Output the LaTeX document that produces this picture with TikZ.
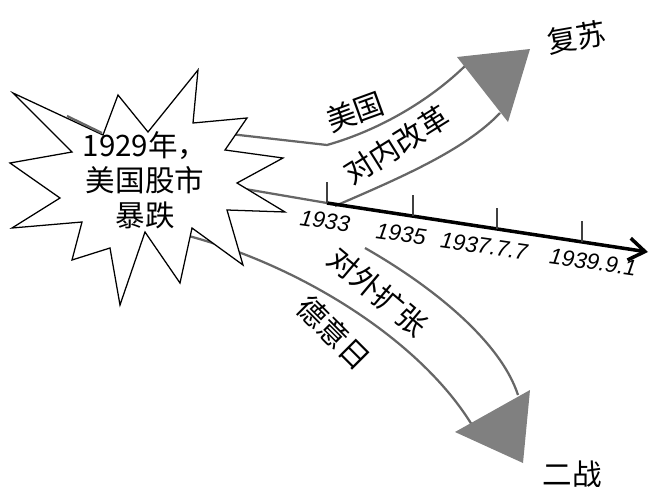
\documentclass[tikz,border=0pt]{standalone}
\usepackage{fontspec}
\setmainfont{Noto Sans CJK SC}
\newfontfamily\numfont{Liberation Sans}
\usetikzlibrary{arrows.meta}

\begin{document}
\begin{tikzpicture}[x=0.025cm,y=-0.025cm,
  band/.style={draw=black!60,line width=1.6pt},
  head/.style={fill=black!50,draw=none},
  lbl/.style={font=\fontsize{21}{25}\selectfont,inner sep=0pt},
  yr/.style={font=\numfont\itshape\fontsize{16}{18}\selectfont,inner sep=0pt,rotate=-8},
  tick/.style={draw=black!75,line width=1pt}]
\useasboundingbox (0,0) rectangle (652,487);
% upper arrow
\draw[band] (230,134) -- (327,145) .. controls (380,130) and (430,100) .. (465,66);
\draw[band] (335,206) .. controls (400,178) and (465,150) .. (500,113);
\fill[head] (457,57) -- (530,49) -- (508,122) -- cycle;
% lower arrow
\draw[band] (185,235) .. controls (300,265) and (420,340) .. (472,425);
\draw[band] (365,248) .. controls (430,285) and (500,340) .. (518,395);
\fill[head] (455,432) -- (530,390) -- (523,463) -- cycle;
% timeline
\coordinate (t0) at (327,203);
\coordinate (tend) at (648,252);
\draw[band] (245,189) -- (t0);
\draw[line width=2.5pt,-{Straight Barb[length=4mm,width=5.5mm]}] (t0) -- (tend);
\foreach \x/\y in {327/203,413/216,497/229,582/242}
  \draw[tick] (\x,\y) -- (\x,\y-21);
\node[yr] (y1933) at (325,221) {1933};
\node[yr] (y1935) at (401,234) {1935};
\node[yr] (y1937) at (484,246) {1937.7.7};
\node[yr] (y1939) at (593,262) {1939.9.1};
% star
\draw[fill=white,line width=0.9pt,line join=miter]
  (13,93) -- (103,135) -- (118,95) -- (148,132) -- (198,70) -- (193,123)
  -- (247,118) -- (225,150) -- (283,158) -- (237,183) -- (285,212) -- (227,210)
  -- (243,265) -- (192,228) -- (180,283) -- (145,232) -- (120,305) -- (110,248)
  -- (72,260) -- (82,222) -- (12,228) -- (60,198) -- (10,163) -- (72,152) -- cycle;
\draw[band] (67,116) -- (102,133);
\node[lbl,align=center] (crash) at (145,180) {1929年，\\美国股市\\暴跌};
% labels
\node[lbl,rotate=10] (recover) at (577,37) {复苏};
\node[lbl,rotate=20] (usa) at (355,112) {美国};
\node[lbl,rotate=32] (reform) at (397,145) {对内改革};
\node[lbl,rotate=-40] (expand) at (378,292) {对外扩张};
\node[lbl,rotate=-45] (axis) at (334,333) {德意日};
\node[lbl] (war) at (572,474) {二战};
\end{tikzpicture}
\end{document}
